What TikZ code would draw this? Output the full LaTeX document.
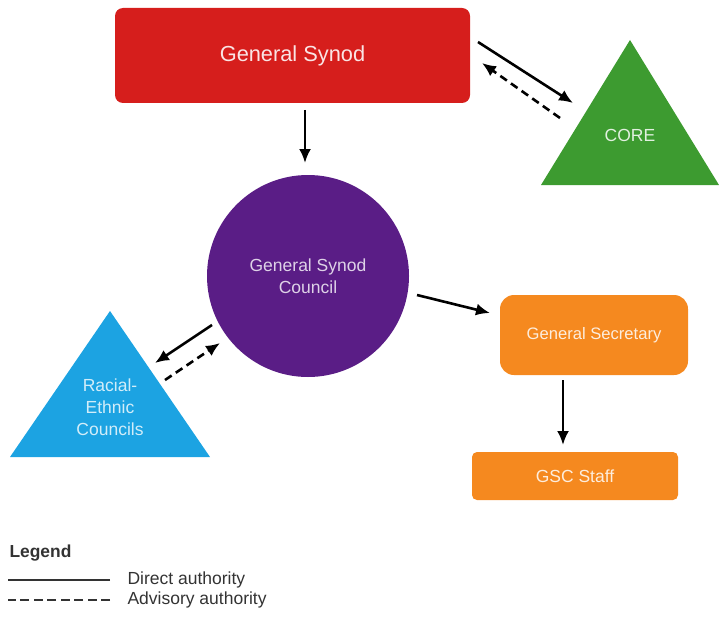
\documentclass[tikz,border=0pt]{standalone}
\usepackage{fontspec}
\setmainfont{Liberation Sans}
\usetikzlibrary{arrows.meta,shapes.geometric}
\definecolor{synodred}{HTML}{D61E1C}
\definecolor{coregreen}{HTML}{3D9B30}
\definecolor{councilpurple}{HTML}{5A1D86}
\definecolor{raceblue}{HTML}{1CA3E2}
\definecolor{stafforange}{HTML}{F5891F}
\definecolor{legendgray}{HTML}{333333}
\tikzset{
	box/.style={rectangle,rounded corners=8pt,inner sep=0pt,outer sep=0pt,align=center,
		font=\fontsize{17.5}{22}\selectfont},
	tri/.style={isosceles triangle,isosceles triangle stretches,shape border rotate=90,
		inner sep=0pt,outer sep=0pt,anchor=apex},
	txt/.style={align=center,font=\fontsize{17.5}{22}\selectfont},
	direct/.style={line width=2.6pt,-{Latex[length=14pt,width=12pt]}},
	advisory/.style={direct,dash pattern=on 8pt off 5pt},
}
\begin{document}
\begin{tikzpicture}[x=1pt,y=-1pt]
	\useasboundingbox (0,0) rectangle (719,623);
	% bodies
	\node[box,fill=synodred,text=white!88!synodred,minimum width=355pt,minimum height=95pt,
		font=\fontsize{21.8}{26}\selectfont] (synod) at (292.5,55.5) {General Synod};
	\node[tri,fill=coregreen,minimum width=178pt,minimum height=145pt] (core) at (630,40) {};
	\node[txt,text=white!85!coregreen] (coretext) at (630,135) {CORE};
	\node[circle,fill=councilpurple,minimum size=202pt,inner sep=0pt,outer sep=0pt,txt,
		text=white!80!councilpurple] (council) at (308,276) {General Synod\\Council};
	\node[tri,fill=raceblue,minimum width=200pt,minimum height=146pt] (racial) at (110,311) {};
	\node[txt,text=white!80!raceblue] (racialtext) at (110,407) {Racial-\\Ethnic\\Councils};
	\node[box,fill=stafforange,text=white!85!stafforange,rounded corners=14pt,
		minimum width=188pt,minimum height=80pt,font=\fontsize{16.6}{20}\selectfont]
		(secretary) at (594,335) {General Secretary};
	\node[box,fill=stafforange,text=white!85!stafforange,rounded corners=5pt,
		minimum width=206pt,minimum height=48pt] (staff) at (575,476) {GSC Staff};
	% authority lines
	\draw[direct] ([shift={(12.5,7)}]synod.south) -- ([shift={(-3,-12)}]council.north);
	\draw[direct] ([shift={(8,-13.5)}]synod.east) -- ([shift={(-57,63)}]core.apex);
	\draw[advisory] ([shift={(-70,78)}]core.apex) -- ([shift={(12,7.5)}]synod.east);
	\draw[direct] ([shift={(8,19)}]council.east) -- ([shift={(-10,-22)}]secretary.west);
	\draw[direct] ([shift={(5,49)}]council.west) -- ([shift={(45,52)}]racial.apex);
	\draw[advisory] ([shift={(55,69)}]racial.apex) -- ([shift={(13,67)}]council.west);
	\draw[direct] ([shift={(-31,5)}]secretary.south) -- ([shift={(-12,-7)}]staff.north);
	% legend
	\node[anchor=west,text=legendgray,font=\bfseries\fontsize{17.4}{20}\selectfont] (legend) at (6,553) {Legend};
	\node[anchor=west,txt,text=legendgray] (direct) at (124,580) {Direct authority};
	\node[anchor=west,txt,text=legendgray] (advisory) at (124,600) {Advisory authority};
	\draw[line width=2.4pt,legendgray] ([xshift=-14pt]direct.west) -- ++(-102,0);
	\draw[line width=2.4pt,legendgray,dash pattern=on 9pt off 4.5pt] ([xshift=-14pt]advisory.west) -- ++(-102,0);
\end{tikzpicture}
\end{document}
